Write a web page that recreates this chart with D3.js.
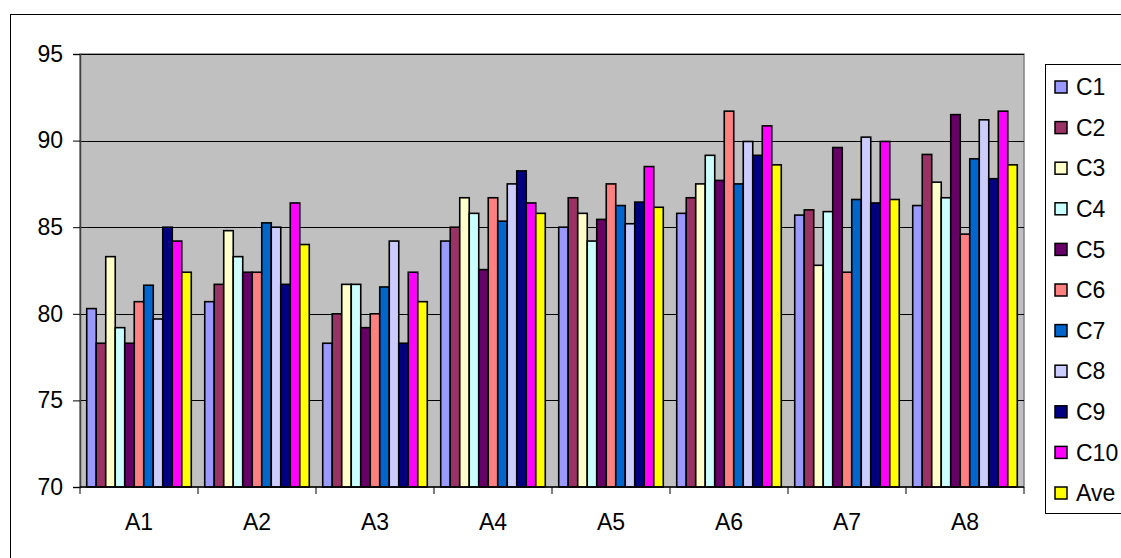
<!DOCTYPE html>
<html><head><meta charset="utf-8">
<script src="https://cdn.jsdelivr.net/npm/d3@7"></script>
<style>body{margin:0;background:#fff}svg{display:block}text{font-family:"Liberation Sans",Arial,sans-serif}</style>
</head><body>
<svg id="c" width="1121" height="558"></svg>
<script>
const categories = ["A1","A2","A3","A4","A5","A6","A7","A8"];
const seriesNames = ["C1","C2","C3","C4","C5","C6","C7","C8","C9","C10","Ave"];
const C1  = [80.3, 80.7, 78.3, 84.2, 85.0, 85.8, 85.7, 86.25];
const C2  = [78.3, 81.7, 80.0, 85.0, 86.7, 86.7, 86.0, 89.2];
const C3  = [83.3, 84.8, 81.7, 86.7, 85.8, 87.5, 82.8, 87.6];
const C4  = [79.2, 83.3, 81.7, 85.8, 84.2, 89.15, 85.9, 86.7];
const C5  = [78.3, 82.4, 79.2, 82.55, 85.45, 87.7, 89.6, 91.5];
const C6  = [80.7, 82.4, 80.0, 86.7, 87.5, 91.7, 82.4, 84.6];
const C7  = [81.65, 85.25, 81.55, 85.35, 86.25, 87.5, 86.6, 88.95];
const C8  = [79.7, 85.0, 84.2, 87.5, 85.2, 89.95, 90.2, 91.2];
const C9  = [85.0, 81.7, 78.3, 88.25, 86.45, 89.15, 86.4, 87.8];
const C10 = [84.2, 86.4, 82.4, 86.4, 88.5, 90.85, 89.95, 91.7];
const Ave = [82.4, 84.0, 80.7, 85.8, 86.15, 88.6, 86.6, 88.6];
const seriesValues = [C1,C2,C3,C4,C5,C6,C7,C8,C9,C10,Ave];
const colors = ["#9999FF","#993366","#FFFFCC","#CCFFFF","#660066","#FF8080","#0066CC","#CCCCFF","#000080","#FF00FF","#FFFF00"];
const yTicks = [70,75,80,85,90,95];

const svg = d3.select("#c");
const L=80, R=1024, T=54, B=487;
const FS = 23;

// outer chart border
svg.append("rect").attr("x",10.5).attr("y",14.5).attr("width",1130).attr("height",560)
  .attr("fill","#fff").attr("stroke","#000").attr("stroke-width",1);

const y = d3.scaleLinear().domain([70,95]).range([B,T]);
const x0 = d3.scaleBand().domain(categories).range([L,R]).paddingInner(0.114).paddingOuter(0.057);
const x1 = d3.scaleBand().domain(seriesNames).range([0,x0.bandwidth()]);
const color = d3.scaleOrdinal().domain(seriesNames).range(colors);

svg.append("rect").attr("x",L).attr("y",T).attr("width",R-L).attr("height",B-T)
  .attr("fill","#C0C0C0").attr("stroke","#808080").attr("stroke-width",1.5);

// gridlines
svg.append("g").selectAll("line").data(yTicks.filter(d=>d>70)).join("line")
  .attr("x1",L).attr("x2",R).attr("y1",d=>Math.round(y(d))+0.5).attr("y2",d=>Math.round(y(d))+0.5)
  .attr("stroke","#000").attr("stroke-width",1);

// bars
const data = [];
categories.forEach((c,i)=>seriesNames.forEach((s,j)=>data.push({c,s,v:seriesValues[j][i]})));
svg.append("g").selectAll("rect").data(data).join("rect")
  .attr("x",d=>x0(d.c)+x1(d.s)).attr("width",x1.bandwidth())
  .attr("y",d=>y(d.v)).attr("height",d=>y(70)-y(d.v))
  .attr("fill",d=>color(d.s)).attr("stroke","#000").attr("stroke-width",1.6);

// y axis
const yAxis = d3.axisLeft(y).tickValues(yTicks).tickSize(7).tickPadding(10).tickFormat(d3.format("d"));
const ya = svg.append("g").attr("transform",`translate(${L},0)`).call(yAxis);
ya.select(".domain").attr("stroke","#404040").attr("stroke-width",1.5);
ya.selectAll(".tick line").attr("stroke","#000");
ya.selectAll("text").attr("font-size",FS).attr("fill","#000").attr("font-family","Liberation Sans, Arial, sans-serif");

// x axis
const xa = svg.append("g").attr("transform",`translate(0,${B})`);
xa.append("line").attr("x1",L).attr("x2",R).attr("stroke","#000").attr("stroke-width",1.5);
const bounds = categories.map(c=>x0(c)-x0.step()*x0.paddingInner()/2).concat([R]);
xa.selectAll(".tk").data(bounds).join("line").attr("class","tk")
  .attr("x1",d=>d).attr("x2",d=>d).attr("y1",0).attr("y2",7).attr("stroke","#000");
xa.selectAll(".lb").data(categories).join("text").attr("class","lb")
  .attr("x",d=>x0(d)+x0.bandwidth()/2).attr("y",35).attr("dy","0.36em").attr("text-anchor","middle")
  .attr("font-size",FS).text(d=>d);

// legend
svg.append("rect").attr("x",1045.5).attr("y",64.5).attr("width",100).attr("height",449)
  .attr("fill","#fff").attr("stroke","#000").attr("stroke-width",1);
const lg = svg.append("g").selectAll("g").data(seriesNames).join("g")
  .attr("transform",(d,i)=>`translate(1055,${87+i*40.6})`);
lg.append("rect").attr("x",0).attr("y",-6).attr("width",12).attr("height",12)
  .attr("fill",d=>color(d)).attr("stroke","#000").attr("stroke-width",1.5);
lg.append("text").attr("x",21).attr("y",0).attr("dy","0.36em").attr("font-size",FS).text(d=>d);
</script>
</body></html>
